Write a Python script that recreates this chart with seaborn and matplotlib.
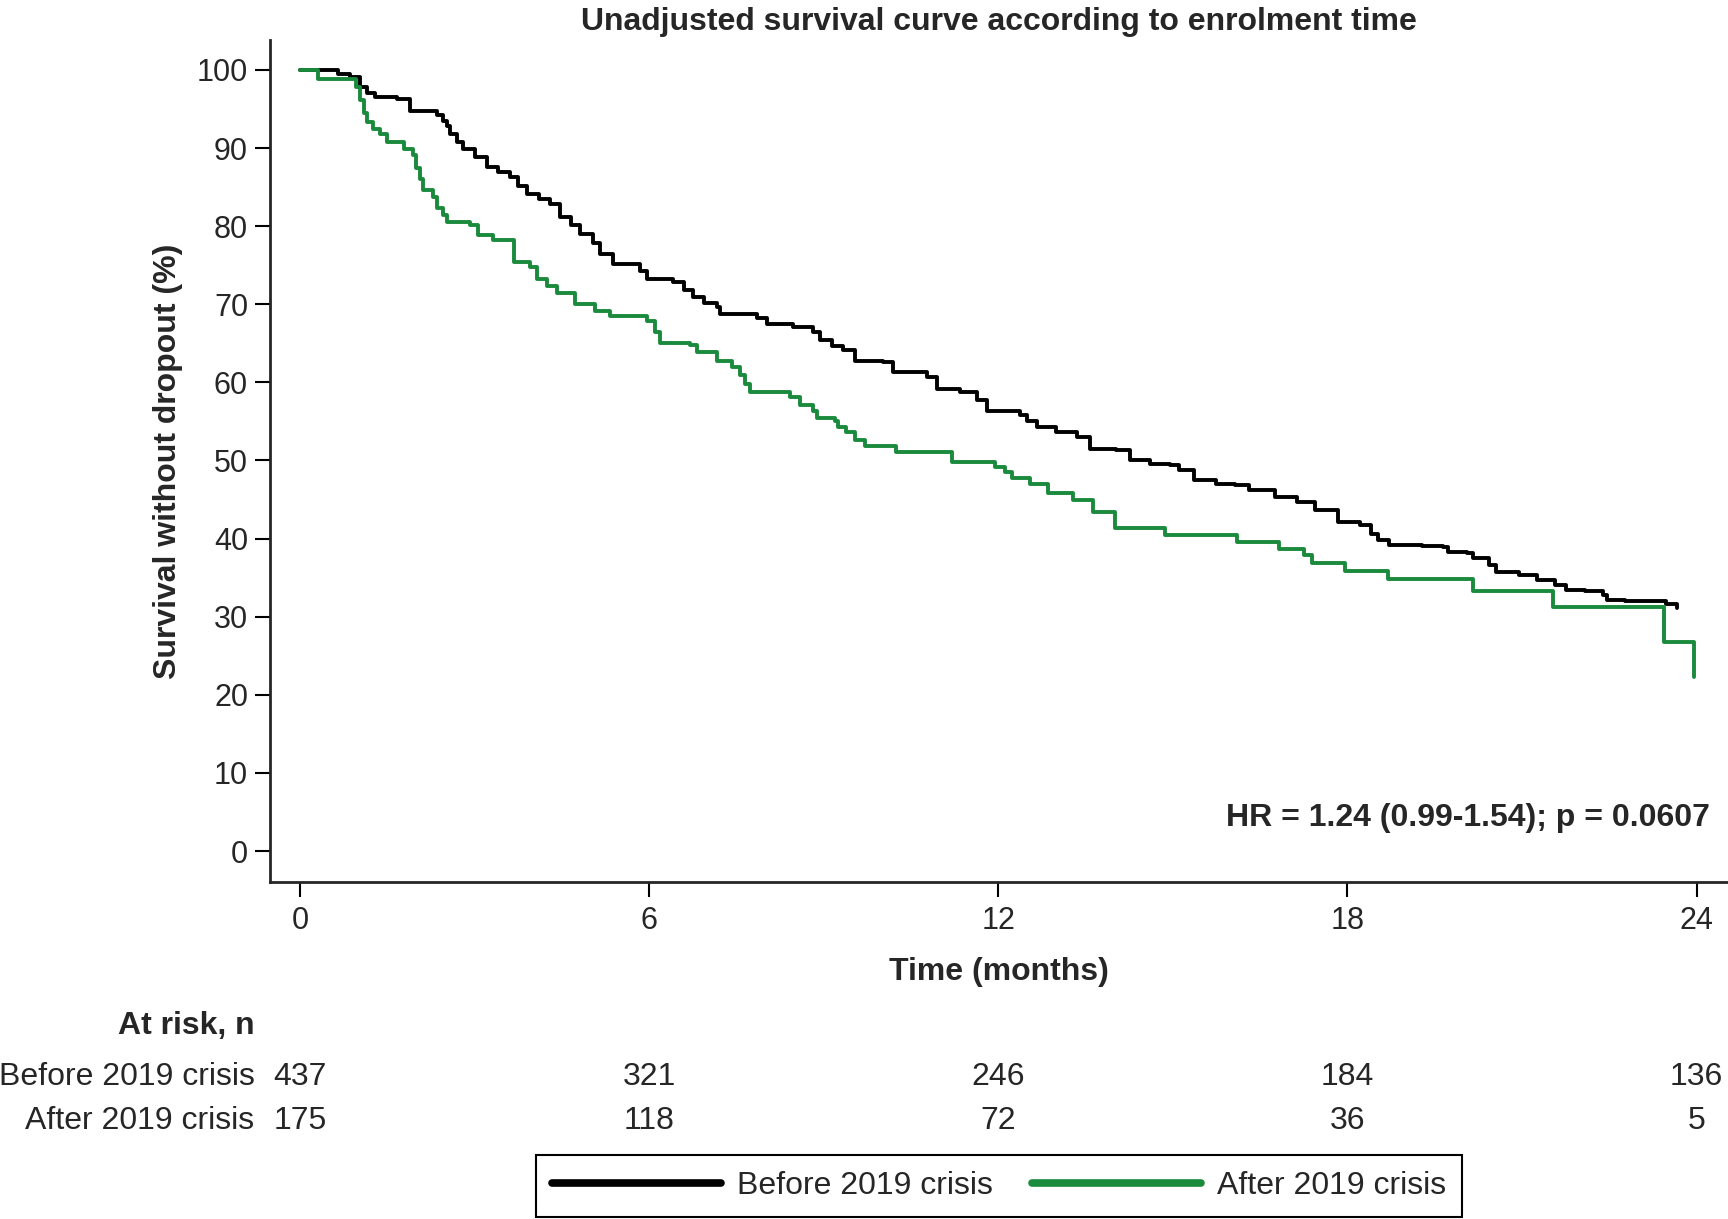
import matplotlib
matplotlib.use("Agg")
import matplotlib.pyplot as plt
import matplotlib.transforms as mtransforms
import numpy as np
import pandas as pd
import seaborn as sns

# Kaplan-Meier steps (months, % surviving after the step)
before_time = [0.00, 0.66, 0.86, 1.03, 1.15, 1.29, 1.66, 1.89, 2.35, 2.45, 2.52, 2.58,
               2.70, 2.81, 3.00, 3.21, 3.40, 3.61, 3.75, 3.90, 4.10, 4.30, 4.47, 4.65,
               4.81, 5.04, 5.15, 5.38, 5.84, 5.96, 6.41, 6.60, 6.76, 6.95, 7.16, 7.22,
               7.85, 8.02, 8.48, 8.82, 8.93, 9.15, 9.33, 9.54, 10.02, 10.19, 10.77, 10.94,
               11.34, 11.63, 11.80, 12.37, 12.50, 12.66, 13.00, 13.35, 13.57, 14.03, 14.26,
               14.61, 14.95, 15.11, 15.37, 15.74, 16.06, 16.31, 16.76, 17.14, 17.45, 17.83,
               18.21, 18.40, 18.53, 18.72, 19.29, 19.64, 19.73, 20.05, 20.15, 20.43, 20.56,
               20.94, 21.25, 21.57, 21.76, 22.08, 22.39, 22.46, 22.77, 23.47, 23.66]
before_surv = [100.0, 99.5, 99.1, 97.8, 97.0, 96.5, 96.3, 94.8, 94.2, 93.5, 92.8, 91.8,
               90.8, 89.9, 88.8, 87.6, 86.9, 86.3, 85.2, 84.1, 83.5, 82.9, 81.2, 80.1,
               79.0, 77.8, 76.5, 75.2, 74.3, 73.3, 72.9, 71.8, 70.9, 70.2, 69.6, 68.8,
               68.2, 67.5, 67.1, 66.4, 65.4, 64.7, 64.1, 62.8, 62.6, 61.3, 60.7, 59.2,
               58.8, 57.7, 56.4, 55.8, 55.1, 54.3, 53.6, 53.0, 51.5, 51.3, 50.0,
               49.6, 49.4, 48.8, 47.5, 47.0, 46.8, 46.2, 45.3, 44.7, 43.6, 42.1,
               41.7, 40.6, 39.8, 39.2, 39.1, 38.9, 38.3, 38.1, 37.5, 36.6, 35.7,
               35.3, 34.7, 34.0, 33.4, 33.3, 32.8, 32.2, 32.0, 31.6, 31.1]

after_time = [0.00, 0.31, 0.97, 1.03, 1.10, 1.15, 1.26, 1.37, 1.49, 1.78, 1.95, 2.00,
              2.06, 2.12, 2.29, 2.35, 2.45, 2.52, 2.92, 3.06, 3.32, 3.67, 3.95, 4.07,
              4.24, 4.41, 4.72, 5.07, 5.33, 5.96, 6.10, 6.19, 6.70, 6.82, 7.16, 7.42,
              7.56, 7.65, 7.73, 8.42, 8.59, 8.82, 8.88, 9.19, 9.25, 9.39, 9.54, 9.71,
              10.25, 11.20, 11.94, 12.11, 12.23, 12.54, 12.86, 13.29, 13.63, 14.00, 14.86,
              16.11, 16.82, 17.26, 17.39, 17.96, 18.69, 20.15, 21.54, 23.44, 23.95]
after_surv = [100.0, 98.9, 97.8, 96.1, 94.5, 93.3, 92.5, 91.8, 90.8, 89.9, 89.1, 87.4,
              86.0, 84.6, 83.7, 82.3, 81.4, 80.5, 80.1, 78.9, 78.2, 75.4, 74.8, 73.3,
              72.4, 71.4, 70.1, 69.1, 68.5, 67.8, 66.4, 65.0, 64.8, 63.9, 62.8, 62.0,
              60.9, 59.8, 58.8, 58.1, 57.1, 56.4, 55.4, 55.1, 54.3, 53.7, 52.6, 51.8,
              51.1, 49.8, 49.2, 48.5, 47.7, 47.0, 45.8, 44.9, 43.4, 41.3, 40.4,
              39.6, 38.7, 37.9, 36.9, 35.9, 34.8, 33.3, 31.2, 26.7, 22.3]

groups = ['Before 2019 crisis', 'After 2019 crisis']
colors = {'Before 2019 crisis': '#000000', 'After 2019 crisis': '#1a8a3c'}

risk_times = [0, 6, 12, 18, 24]
risk_before = [437, 321, 246, 184, 136]
risk_after = [175, 118, 72, 36, 5]

hr_text = 'HR = 1.24 (0.99-1.54); p = 0.0607'

df = pd.concat([
    pd.DataFrame({'month': before_time, 'surv': before_surv, 'group': groups[0]}),
    pd.DataFrame({'month': after_time, 'surv': after_surv, 'group': groups[1]}),
])

sns.set_style('ticks')
plt.rcParams['font.family'] = ['Liberation Sans', 'DejaVu Sans']
fs = 23

W, H = 1728, 1219
fig = plt.figure(figsize=(W / 100, H / 100), dpi=100)
ax = fig.add_axes([270 / W, 1 - 881.7 / H, 1458 / W, 841.7 / H])

sns.lineplot(data=df, x='month', y='surv', hue='group', hue_order=groups,
             palette=colors, estimator=None, drawstyle='steps-post',
             linewidth=2.8, ax=ax)
handles, labels = ax.get_legend_handles_labels()
ax.get_legend().remove()

ax.set_xlim(-0.515, 24.54)
ax.set_ylim(-3.93, 103.84)
ax.set_xticks(risk_times)
ax.set_yticks(np.arange(0, 101, 10))
sns.despine(ax=ax)
for s in ['left', 'bottom']:
    ax.spines[s].set_linewidth(2)
ax.tick_params(axis='both', length=10.8, width=1.5, labelsize=22, color='black')
ax.tick_params(axis='x', pad=7)
ax.tick_params(axis='y', pad=5)

ax.set_title('Unadjusted survival curve according to enrolment time',
             fontsize=fs, fontweight='bold', pad=7)
ax.set_xlabel('Time (months)', fontsize=fs, fontweight='bold')
ax.set_ylabel('Survival without dropout (%)', fontsize=fs, fontweight='bold')
ax.xaxis.set_label_coords(0.5, -0.090)
ax.yaxis.set_label_coords(-0.06, 0.5)

ax.text(0.9877, 0.076, hr_text, transform=ax.transAxes, ha='right', va='center',
        fontsize=fs, fontweight='bold')

# number-at-risk table
tr = mtransforms.blended_transform_factory(ax.transData, fig.transFigure)
fig.text(254.6 / W, 1 - 1026 / H, 'At risk, n', ha='right', va='center',
         fontsize=fs, fontweight='bold')
for name, counts, ypx in [(groups[0], risk_before, 1076.7), (groups[1], risk_after, 1120.7)]:
    fig.text(254.6 / W, 1 - ypx / H, name, ha='right', va='center', fontsize=fs)
    for t, n in zip(risk_times, counts):
        ax.text(t, 1 - ypx / H, str(n), transform=tr, ha='center', va='center',
                fontsize=fs, clip_on=False)

leg = fig.legend(handles, labels, loc='center', bbox_to_anchor=(999 / W, 1 - 1186 / H),
                 ncol=2, frameon=True, fancybox=False, edgecolor='black',
                 handlelength=5.3, handletextpad=0.5, columnspacing=1.2,
                 borderpad=0.5, fontsize=fs)
leg.get_frame().set_linewidth(1.5)
leg.get_frame().set_alpha(1)
for line in leg.get_lines():
    line.set_linewidth(5.5)

fig.savefig('out.png', dpi=100)
